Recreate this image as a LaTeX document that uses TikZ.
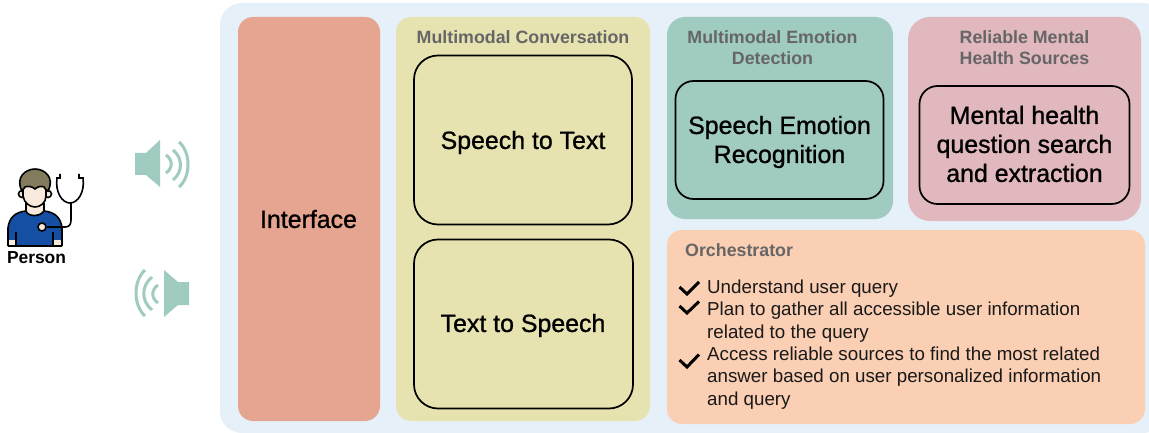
\documentclass[tikz,border=0pt]{standalone}
\usepackage{fontspec}
\setmainfont{Liberation Sans}
\newfontfamily\medfont[FakeBold=1]{Liberation Sans}
\definecolor{outerbg}{HTML}{E6F0F8}
\definecolor{ifc}{HTML}{E6A590}
\definecolor{conv}{HTML}{E6E3B0}
\definecolor{emo}{HTML}{A0CBC0}
\definecolor{rel}{HTML}{E0B8BE}
\definecolor{orch}{HTML}{FBCFB3}
\definecolor{head}{HTML}{666666}
\definecolor{spk}{HTML}{A0CBC0}
\definecolor{hair}{HTML}{827C5C}
\definecolor{skin}{HTML}{F8EBDD}
\definecolor{shirt}{HTML}{154FA3}
\tikzset{
  x=1pt,y=-1pt,
  inbox/.style={draw=black,line width=1.7pt,rounded corners=18pt,inner sep=0pt},
  bigtext/.style={font=\medfont\fontsize{24.9}{29}\selectfont,align=center,text=black,inner sep=0pt},
  headtext/.style={font=\fontsize{17.8}{21}\selectfont\bfseries,text=head,align=center},
  bodytext/.style={font=\fontsize{18.75}{22.4}\selectfont,text=black!90,align=left,anchor=north west,inner sep=0pt},
  chk/.style={draw=black,line width=3pt,miter limit=10},
  wave/.style={draw=spk,line width=3pt},
  icon/.style={draw=black,line width=1.6pt}
}
\begin{document}
\begin{tikzpicture}
\useasboundingbox (0,0) rectangle (1149,433);
\fill[white] (0,0) rectangle (1149,433);
\fill[outerbg,rounded corners=22pt] (220,3) rectangle (1165,433);
% panels
\fill[ifc,rounded corners=15pt] (238,17) rectangle (380,421);
\fill[conv,rounded corners=15pt] (396,17) rectangle (650,421);
\fill[emo,rounded corners=18pt] (667,17) rectangle (893,219);
\fill[rel,rounded corners=22pt] (908,17) rectangle (1141,221);
\fill[orch,rounded corners=15pt] (667,230) rectangle (1145,424);
% labels and boxes
\node[bigtext] (ifacelabel) at (308.5,219) {Interface};
\node[headtext] (convhead) at (523,37) {Multimodal Conversation};
\node[inbox,minimum width=218pt,minimum height=169pt,rounded corners=24pt] (s2t) at (523,140) {};
\node[bigtext] (s2tlabel) at (523,142.5) {Speech to Text};
\node[inbox,minimum width=219pt,minimum height=169pt,rounded corners=24pt] (t2s) at (523.5,324) {};
\node[bigtext] (t2slabel) at (523,325.5) {Text to Speech};
\node[headtext] (emohead) at (772.5,47.5) {Multimodal Emotion\\Detection};
\node[inbox,minimum width=208pt,minimum height=118pt] (ser) at (779.5,140) {};
\node[bigtext] (serlabel) at (779.5,142) {Speech Emotion\\Recognition};
\node[headtext] (relhead) at (1024.5,47.5) {Reliable Mental\\Health Sources};
\node[inbox,minimum width=210pt,minimum height=118pt] (mh) at (1024.5,145) {};
\node[bigtext] (mhlabel) at (1024.5,144) {Mental health\\question search\\and extraction};
\node[headtext,anchor=west,inner sep=0pt] (orchhead) at (685,250) {Orchestrator};
\node[bodytext] (l1) at (707,279.5) {Understand user query};
\node[bodytext] (l2) at (707,302) {Plan to gather all accessible user information\\related to the query};
\node[bodytext] (l3) at (707,346.5) {Access reliable sources to find the most related\\answer based on user personalized information\\and query};
% check marks
\draw[chk] (679.5,287) -- (687,294) -- (699,282);
\draw[chk] (679.5,306) -- (687,313) -- (699,301.5);
\draw[chk] (679.5,360) -- (687,367) -- (699,354.5);
% speaker out
\fill[spk] (135,153) -- (146,153) -- (160,140) -- (160,187) -- (146,175) -- (135,175) -- cycle;
\draw[wave] (166,155) .. controls (173,160) and (173,168) .. (166,173);
\draw[wave] (173,150) .. controls (183,158) and (183,172) .. (173,180);
\draw[wave] (179,142) .. controls (191,152) and (191,177) .. (179,187);
% speaker in
\fill[spk] (189,282) -- (178,282) -- (164,270) -- (164,317) -- (178,305) -- (189,305) -- cycle;
\draw[wave] (158,285) .. controls (151,290) and (151,298) .. (158,303);
\draw[wave] (152,277) .. controls (141,286) and (141,301) .. (152,310);
\draw[wave] (145,270) .. controls (133,281) and (133,305) .. (145,316);
% person
\fill[shirt] (8,246) -- (8,228) .. controls (9,218) and (15,212) .. (26,211) -- (44,211) .. controls (55,212) and (61,218) .. (62,228) -- (62,246) -- cycle;
\fill[skin] (9,240) rectangle (16,246);
\fill[skin] (54,240) rectangle (61,246);
\draw[icon] (8,246) -- (8,228) .. controls (9,218) and (15,212) .. (26,211);
\draw[icon] (44,211) .. controls (55,212) and (61,218) .. (62,228) -- (62,246);
\draw[icon] (8,246) -- (62,246);
\draw[icon] (16,232) -- (16,246);
\draw[icon] (53,232) -- (53,246);
\draw[icon,fill=skin] (26,204) -- (26,211) .. controls (28,217) and (40,217) .. (44,211) -- (44,204) -- cycle;
\draw[icon,fill=skin] (22,194) circle (3.5);
\draw[icon,fill=skin] (48,194) circle (3.5);
\draw[icon,fill=skin] (23,184) -- (23,196) .. controls (24,203) and (30,207) .. (35,207) .. controls (40,207) and (46,203) .. (46,196) -- (46,184) -- cycle;
\draw[icon,fill=hair] (22,191) .. controls (15,178) and (25,169) .. (35,169) .. controls (45,169) and (55,178) .. (48,191) .. controls (46,190) and (45,189) .. (44,187) .. controls (42,186) and (38,186) .. (35,189) .. controls (32,186) and (27,186) .. (25,187) -- cycle;
\draw[icon] (60,174) -- (60,178) -- (57,178) .. controls (55,192) and (62,203) .. (70,203) .. controls (78,203) and (85,192) .. (83,178) -- (79,178) -- (79,174);
\draw[icon] (71,203) -- (71,220) .. controls (71,225) and (69,227) .. (65,227) -- (47,227);
\draw[icon,fill=skin] (42,227) circle (4);
\node[font=\fontsize{17.4}{19}\selectfont\bfseries,text=black,inner sep=0pt] (person) at (36.5,258) {Person};
\end{tikzpicture}
\end{document}
